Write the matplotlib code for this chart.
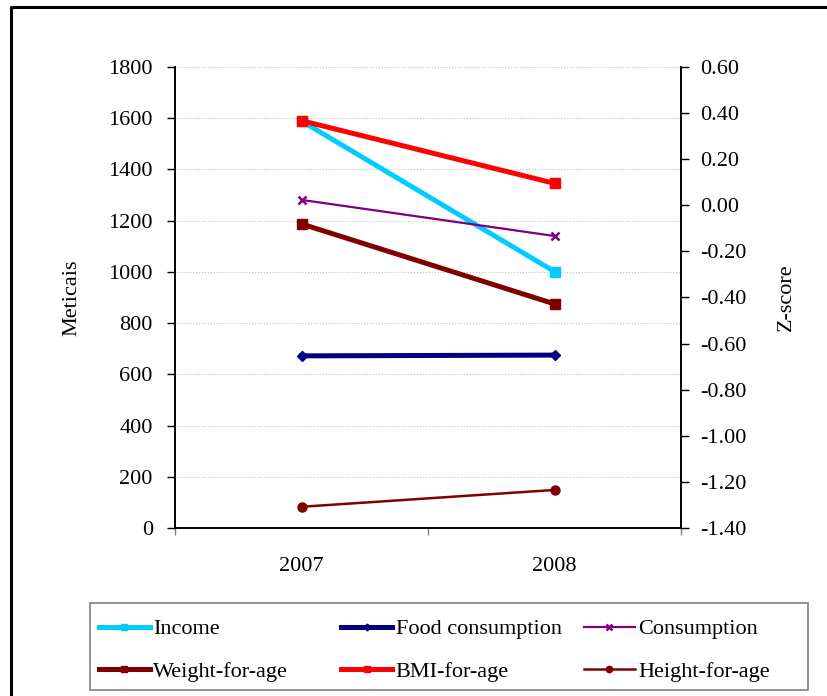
import matplotlib
matplotlib.use('Agg')
import matplotlib.pyplot as plt
from matplotlib.lines import Line2D
from matplotlib.patches import Rectangle
from matplotlib.ticker import FormatStrFormatter, MultipleLocator

plt.rcParams['font.family'] = ['Liberation Serif', 'DejaVu Serif']
plt.rcParams['axes.unicode_minus'] = False

years = ['2007', '2008']

# left axis (Meticais)
income = [1589, 1001]
food_consumption = [672, 675]
consumption = [1281, 1140]

# right axis (Z-score)
weight_for_age = [-0.081, -0.428]
bmi_for_age = [0.367, 0.095]
height_for_age = [-1.308, -1.235]

fig = plt.figure(figsize=(8.28, 6.96), dpi=100)
ax = fig.add_axes([0.2114, 0.2414, 0.6111, 0.6624])
ax2 = ax.twinx()

x = list(range(len(years)))

l_inc, = ax.plot(x, income, color='#00CCFF', lw=3.6, marker='s', ms=6.5, label='Income')
l_food, = ax.plot(x, food_consumption, color='#000080', lw=3.6, marker='D', ms=5, label='Food consumption')
l_cons, = ax.plot(x, consumption, color='#800080', lw=1.6, marker='x', ms=5.5, mew=1.8, label='Consumption')

l_wfa, = ax2.plot(x, weight_for_age, color='#800000', lw=3.6, marker='s', ms=6.5, label='Weight-for-age')
l_bmi, = ax2.plot(x, bmi_for_age, color='#FF0000', lw=3.6, marker='s', ms=6.5, label='BMI-for-age')
l_hfa, = ax2.plot(x, height_for_age, color='#800000', lw=1.8, marker='o', ms=6.5, label='Height-for-age')

ax.set_xlim(-0.5, 1.5)
ax.set_ylim(0, 1800)
ax.yaxis.set_major_locator(MultipleLocator(200))
ax2.set_ylim(-1.4, 0.6)
ax2.yaxis.set_major_locator(MultipleLocator(0.2))
ax2.yaxis.set_major_formatter(FormatStrFormatter('%.2f'))

ax.set_xticks(x)
ax.set_xticklabels(years)
ax.set_xticks([-0.5, 0.5, 1.5], minor=True)
ax.tick_params(axis='x', which='major', length=0, pad=21, labelsize=16)
ax.tick_params(axis='x', which='minor', length=5, color='#808080', width=1)
ax.tick_params(axis='y', length=6, width=1, labelsize=16, pad=10)
ax2.tick_params(axis='y', length=6, width=1, labelsize=16, pad=8)

ax.grid(axis='y', color='#C0C0C0', linestyle=':', linewidth=0.8)
ax.set_axisbelow(True)

for a in (ax, ax2):
    a.spines['top'].set_visible(False)
    for s in ('left', 'right', 'bottom'):
        a.spines[s].set_linewidth(1.2)

ax.set_ylabel('Meticais', fontsize=16)
ax.yaxis.set_label_coords(-0.186, 0.5)
ax2.set_ylabel('Z-score', fontsize=16)
ax2.yaxis.set_label_coords(1.19, 0.5)

# legend: three equal-width columns like the original
columns = [[l_inc, l_wfa], [l_food, l_bmi], [l_cons, l_hfa]]
col_x = [0.119, 0.412, 0.705]
for hs, cx in zip(columns, col_x):
    lg = fig.legend(handles=hs, labels=[h.get_label() for h in hs],
                    loc='upper left', bbox_to_anchor=(cx, 0.111), frameon=False,
                    fontsize=16, handlelength=2.3, handletextpad=0.15,
                    markerscale=0.7, borderaxespad=0, borderpad=0, labelspacing=0.98)
fig.patches.append(Rectangle((90 / 828, 6 / 696), 718 / 828, 87 / 696, transform=fig.transFigure,
                             fill=False, edgecolor='#808080', linewidth=1.2))

# outer chart border (only top and left edges are inside the picture)
fig.add_artist(Line2D([0.0133, 0.0133, 1.0], [0.0, 0.99, 0.99], transform=fig.transFigure,
                      color='black', linewidth=2.2))

fig.savefig('out.png', dpi=100)
